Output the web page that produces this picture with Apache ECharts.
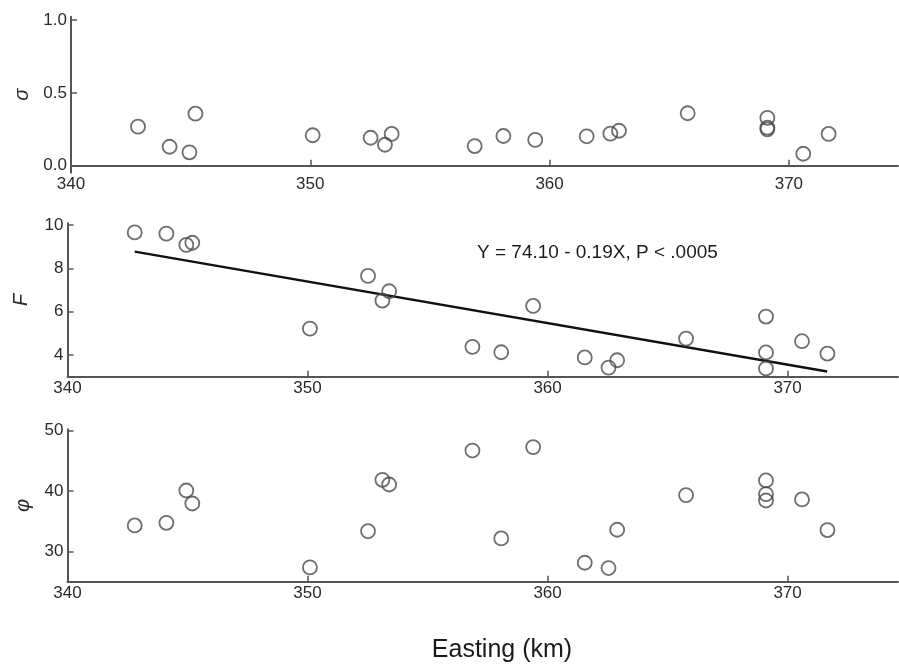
<!DOCTYPE html>
<html>
<head>
<meta charset="utf-8">
<script src="https://cdn.jsdelivr.net/npm/echarts@6/dist/echarts.min.js"></script>
<style>
  html, body { margin: 0; background: #fff; }
  #chart { width: 899px; height: 664px; }
</style>
</head>
<body>
<div id="chart"></div>
<script>
// station easting (km), shared by the three panels
const easting = [342.8, 344.12, 344.95, 345.2, 350.1, 352.52, 353.12, 353.4, 356.87, 358.07,
  359.4, 361.55, 362.54, 362.9, 365.77, 369.1, 369.1, 369.1, 370.6, 371.66];
const sigma = [0.268, 0.13, 0.092, 0.357, 0.209, 0.192, 0.144, 0.218, 0.135, 0.204,
  0.177, 0.202, 0.22, 0.24, 0.36, 0.328, 0.261, 0.25, 0.082, 0.218];
const fValues = [9.66, 9.6, 9.08, 9.18, 5.21, 7.65, 6.51, 6.94, 4.37, 4.12,
  6.26, 3.88, 3.41, 3.75, 4.75, 5.77, 4.11, 3.37, 4.63, 4.06];
const phi = [34.3, 34.74, 40.08, 37.93, 27.36, 33.37, 41.85, 41.07, 46.69, 32.15,
  47.26, 28.13, 27.26, 33.59, 39.32, 41.74, 39.49, 38.43, 38.6, 33.54];

// regression line as drawn in the F panel
const fitEasting = [342.8, 371.65];
const fitF = [8.77, 3.23];

const eastingTicks = [340, 350, 360, 370];
const sigmaTicks = [0, 0.5, 1.0];
const fTicks = [4, 6, 8, 10];
const phiTicks = [30, 40, 50];

const axisColor = '#555';
const markColor = '#4a4a4a';
const textColor = '#2a2a2a';
const font = '"Liberation Sans", Arial, sans-serif';

const pairs = (xs, ys) => xs.map((x, i) => [x, ys[i]]);

const xAxisFor = (gridIndex, max) => ({
  type: 'value',
  gridIndex,
  min: 340,
  max,
  axisLine: { show: true, lineStyle: { color: axisColor, width: 2 } },
  axisTick: { show: true, inside: true, length: 6, customValues: eastingTicks, lineStyle: { color: axisColor, width: 1.5 } },
  axisLabel: { customValues: eastingTicks, margin: 3, fontSize: 17, color: textColor, fontFamily: font },
  splitLine: { show: false }
});

const yAxisFor = (gridIndex, min, max, ticks, name, digits, nameGap) => ({
  type: 'value',
  gridIndex,
  min,
  max,
  name,
  nameLocation: 'middle',
  nameRotate: 90,
  nameGap,
  nameTextStyle: { fontSize: 20, fontStyle: 'italic', color: textColor, fontFamily: font },
  axisLine: { show: true, lineStyle: { color: axisColor, width: 2 } },
  axisTick: { show: true, inside: true, length: 6, customValues: ticks, lineStyle: { color: axisColor, width: 1.5 } },
  axisLabel: {
    customValues: ticks,
    margin: 4,
    fontSize: 17,
    color: textColor,
    fontFamily: font,
    formatter: v => v.toFixed(digits)
  },
  splitLine: { show: false }
});

const scatterStyle = {
  type: 'scatter',
  symbol: 'circle',
  symbolSize: 14,
  itemStyle: { color: 'rgba(0,0,0,0)', borderColor: markColor, borderWidth: 1.8 },
  emphasis: { disabled: true },
  z: 3
};

const myChart = echarts.init(document.getElementById('chart'));
myChart.setOption({
  backgroundColor: '#fff',
  animation: false,
  title: [
    {
      text: 'Y = 74.10 - 0.19X, P < .0005',
      left: 477,
      top: 243,
      padding: 0,
      textStyle: { fontSize: 19, fontWeight: 'normal', color: '#1a1a1a', fontFamily: font }
    },
    {
      text: 'Easting (km)',
      left: 502,
      top: 638,
      textAlign: 'center',
      padding: 0,
      textStyle: { fontSize: 25, fontWeight: 'normal', color: '#1a1a1a', fontFamily: font }
    }
  ],
  grid: [
    { left: 71, top: 16.7, width: 827, height: 156 },
    { left: 67.5, top: 223.3, width: 830.5, height: 153.4 },
    { left: 67.5, top: 429.3, width: 830.5, height: 152.4 }
  ],
  xAxis: [
    xAxisFor(0, 374.56),
    xAxisFor(1, 374.6),
    xAxisFor(2, 374.6)
  ],
  yAxis: [
    yAxisFor(0, -0.048, 1.023, sigmaTicks, 'σ', 1, 38),
    yAxisFor(1, 2.99, 10.08, fTicks, 'F', 0, 36),
    yAxisFor(2, 25, 50.2, phiTicks, 'φ', 0, 34)
  ],
  series: [
    { ...scatterStyle, xAxisIndex: 0, yAxisIndex: 0, data: pairs(easting, sigma) },
    { ...scatterStyle, xAxisIndex: 1, yAxisIndex: 1, data: pairs(easting, fValues) },
    { ...scatterStyle, xAxisIndex: 2, yAxisIndex: 2, data: pairs(easting, phi) },
    {
      type: 'line',
      xAxisIndex: 1,
      yAxisIndex: 1,
      data: pairs(fitEasting, fitF),
      showSymbol: false,
      lineStyle: { color: '#111', width: 2.5 },
      emphasis: { disabled: true },
      z: 2
    }
  ]
});
</script>
</body>
</html>
